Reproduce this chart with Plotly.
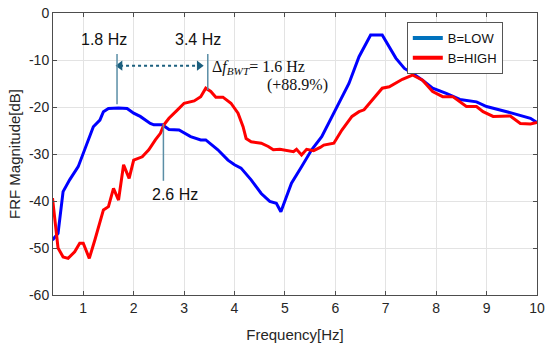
import plotly.graph_objects as go

# ---- data ----
freq_low = [0.39, 0.5, 0.6, 0.73, 0.9, 1.0, 1.1, 1.2, 1.33, 1.4, 1.5, 1.7, 1.87, 2.0, 2.13,
            2.33, 2.4, 2.57, 2.7, 2.9, 3.13, 3.23, 3.33, 3.43, 3.67, 3.87, 4.0, 4.13, 4.33,
            4.53, 4.7, 4.83, 4.92, 5.03, 5.13, 5.33, 5.53, 5.73, 5.93, 6.0, 6.27, 6.47, 6.7,
            6.93, 7.07, 7.2, 7.37, 7.53, 7.73, 7.93, 8.2, 8.47, 8.8, 9.0, 9.4, 9.87, 10.0]
mag_low = [-48.3, -46.9, -38.0, -35.5, -32.7, -29.8, -26.7, -24.2, -22.8, -21.0, -20.3, -20.2,
           -20.3, -21.3, -22.0, -23.5, -23.8, -23.8, -24.8, -24.9, -26.3, -26.6, -27.0, -27.0,
           -29.1, -31.3, -32.3, -33.0, -35.5, -38.4, -40.1, -40.5, -42.3, -39.1, -36.2, -32.7,
           -29.1, -26.3, -22.0, -20.6, -15.0, -9.3, -4.7, -4.7, -7.2, -9.6, -11.8, -12.8,
           -14.3, -16.0, -17.1, -18.4, -18.9, -19.9, -21.0, -22.4, -23.3]

freq_high = [0.39, 0.5, 0.6, 0.7, 0.83, 0.93, 1.0, 1.12, 1.23, 1.4, 1.5, 1.6, 1.7, 1.8, 1.91,
             2.0, 2.17, 2.3, 2.43, 2.53, 2.6, 2.7, 2.87, 3.0, 3.2, 3.33, 3.43, 3.53, 3.63, 3.77,
             3.93, 4.07, 4.17, 4.23, 4.33, 4.53, 4.67, 4.77, 4.9, 5.07, 5.17, 5.23, 5.33, 5.43,
             5.57, 5.7, 5.77, 5.97, 6.13, 6.33, 6.47, 6.57, 6.73, 6.93, 7.07, 7.33, 7.53, 7.73,
             7.93, 8.13, 8.33, 8.6, 8.8, 8.93, 9.13, 9.33, 9.47, 9.67, 9.87, 10.0]
mag_high = [-39.4, -50.0, -51.9, -52.2, -50.8, -49.0, -49.0, -52.2, -48.3, -41.9, -41.2, -37.3,
            -39.8, -32.3, -35.2, -31.3, -30.6, -29.1, -27.0, -25.6, -23.8, -22.4, -20.6, -19.2,
            -18.7, -17.8, -16.0, -16.7, -17.9, -17.9, -19.2, -21.3, -24.2, -26.7, -27.4, -27.7,
            -28.4, -29.1, -29.0, -29.3, -29.5, -29.0, -30.2, -29.0, -29.3, -28.6, -28.1, -27.7,
            -24.9, -22.0, -21.0, -20.6, -18.5, -16.0, -15.7, -14.1, -13.2, -14.3, -16.7, -17.8,
            -17.8, -19.9, -19.9, -21.0, -22.0, -22.0, -21.9, -23.5, -23.6, -23.3]

x_ticks = [1, 2, 3, 4, 5, 6, 7, 8, 9, 10]
y_ticks = [-60, -50, -40, -30, -20, -10, 0]

# annotation markers (frequency, dB extents)
peak_low_f, peak_high_f, cross_f = 1.67, 3.47, 2.59
arrow_f = [1.73, 3.3]
arrow_db = -11.2

fig = go.Figure()

fig.add_trace(go.Scatter(x=freq_low, y=mag_low, mode="lines",
                         line=dict(color="#0000ff", width=3), showlegend=False))
fig.add_trace(go.Scatter(x=freq_high, y=mag_high, mode="lines",
                         line=dict(color="#ff0000", width=3), showlegend=False))
# legend-only entries (MATLAB style colours)
fig.add_trace(go.Scatter(x=[None], y=[None], mode="lines", name="B=LOW",
                         line=dict(color="#0072BD", width=4)))
fig.add_trace(go.Scatter(x=[None], y=[None], mode="lines", name="B=HIGH",
                         line=dict(color="#ff0000", width=4)))

# dotted double arrow
fig.add_trace(go.Scatter(x=arrow_f, y=[arrow_db, arrow_db], mode="lines+markers",
                         line=dict(color="#1b5f7e", width=2, dash="dot"),
                         marker=dict(symbol=["triangle-left", "triangle-right"], size=9,
                                     color="#1b5f7e"),
                         showlegend=False))

line_col = "#5b8ea6"
for f, y0, y1 in [(peak_low_f, -8.7, -19.4), (peak_high_f, -8.7, -16.4), (cross_f, -23.6, -35.7)]:
    fig.add_shape(type="line", x0=f, x1=f, y0=y0, y1=y1, xref="x", yref="y",
                  line=dict(color=line_col, width=1.5))

sans = "Liberation Sans, Arial, sans-serif"
serif = "Liberation Serif, Times New Roman, serif"
fig.add_annotation(x=1.42, y=-5.6, text="1.8 Hz", showarrow=False,
                   font=dict(family=sans, size=16, color="#111"))
fig.add_annotation(x=3.27, y=-5.6, text="3.4 Hz", showarrow=False,
                   font=dict(family=sans, size=16, color="#111"))
fig.add_annotation(x=2.81, y=-38.6, text="2.6 Hz", showarrow=False,
                   font=dict(family=sans, size=16, color="#111"))
fig.add_annotation(x=3.52, y=-11.7, text="Δ<i>f</i><sub><i>BWT</i></sub>= 1.6 Hz",
                   showarrow=False, xanchor="left",
                   font=dict(family=serif, size=16, color="#111"))
fig.add_annotation(x=5.89, y=-15.3, text="(+88.9%)", showarrow=False, xanchor="right",
                   font=dict(family=serif, size=16, color="#111"))

axis_common = dict(showline=True, linecolor="#4d4d4d", linewidth=1, mirror="ticks",
                   ticks="inside", ticklen=4, tickcolor="#4d4d4d",
                   showgrid=True, gridcolor="#e3e3e3", gridwidth=1, zeroline=False,
                   automargin=False, ticklabeloverflow="allow",
                   tickfont=dict(family=sans, size=14, color="#262626"))

fig.update_xaxes(range=[0.4, 10], tickvals=x_ticks, ticktext=[str(t) for t in x_ticks],
                 title=dict(text="Frequency[Hz]", font=dict(family=sans, size=15, color="#262626"),
                            standoff=14),
                 **axis_common)
fig.update_yaxes(range=[-60, 0], tickvals=y_ticks, ticktext=[str(t) for t in y_ticks],
                 title=dict(text="FRF Magnitude[dB]", font=dict(family=sans, size=15, color="#262626"),
                            standoff=4),
                 **axis_common)

fig.update_layout(
    width=550, height=347,
    margin=dict(l=53, r=13, t=13, b=52),
    plot_bgcolor="white", paper_bgcolor="white",
    legend=dict(x=0.731, y=0.968, xanchor="left", yanchor="top",
                bgcolor="white", bordercolor="#555", borderwidth=1,
                font=dict(family=sans, size=13, color="#111"),
                tracegroupgap=0, itemwidth=30, entrywidth=112, entrywidthmode="pixels"),
)

# remove the browser's default 8px body margin so the figure sits at the page origin
fig.write_html("out.html", config={"displayModeBar": False},
               post_script="document.body.style.margin='0';")
